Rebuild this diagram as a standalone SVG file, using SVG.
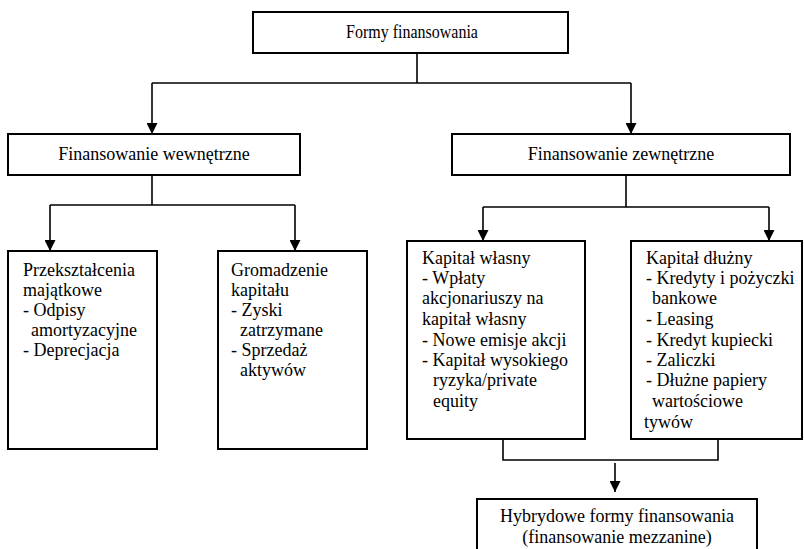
<svg xmlns="http://www.w3.org/2000/svg" width="804" height="549" viewBox="0 0 804 549">
  <defs>
    <marker id="arr" markerUnits="userSpaceOnUse" markerWidth="11" markerHeight="11" viewBox="0 0 10 10" refX="10" refY="5" orient="auto">
      <path d="M0,0 L10,5 L0,10 z" fill="#000"/>
    </marker>
    <style>
      .box { fill: #fff; stroke: #000; stroke-width: 2; }
      .t { font-family: "Liberation Serif", "Times New Roman", serif; font-size: 18px; fill: #000; }
      .c { text-anchor: middle; }
      .ln { fill: none; stroke: #000; stroke-width: 1.6; }
    </style>
  </defs>
  <rect width="804" height="549" fill="#fff"/>

  <g id="connectors">
    <path class="ln" d="M417,53 V83 M152,83 H631"/>
    <path class="ln" d="M152,83 V134" marker-end="url(#arr)"/>
    <path class="ln" d="M631,83 V134" marker-end="url(#arr)"/>
    <path class="ln" d="M152,175 V205 M50,205 H295"/>
    <path class="ln" d="M50,205 V251" marker-end="url(#arr)"/>
    <path class="ln" d="M295,205 V251" marker-end="url(#arr)"/>
    <path class="ln" d="M626,175 V207 M483,207 H769"/>
    <path class="ln" d="M483,207 V241" marker-end="url(#arr)"/>
    <path class="ln" d="M769,207 V241" marker-end="url(#arr)"/>
    <path class="ln" d="M503,439 V460 H718 V439"/>
    <path class="ln" d="M615,463 V492" marker-end="url(#arr)"/>
  </g>

  <g id="formy">
    <rect class="box" x="253" y="12" width="315" height="41"/>
    <text class="t c" style="font-size:16px" transform="translate(412,38) scale(1,1.22)" x="0" y="0">Formy finansowania</text>
  </g>

  <g id="wewnetrzne">
    <rect class="box" x="8" y="134" width="292" height="41"/>
    <text class="t c" x="154" y="160">Finansowanie wewnętrzne</text>
  </g>

  <g id="zewnetrzne">
    <rect class="box" x="452" y="134" width="338" height="41"/>
    <text class="t c" x="621" y="160">Finansowanie zewnętrzne</text>
  </g>

  <g id="przeksztalcenia">
    <rect class="box" x="8" y="251" width="149" height="198"/>
    <text class="t">
      <tspan x="23" y="276">Przekształcenia</tspan>
      <tspan x="23" y="296">majątkowe</tspan>
      <tspan x="23" y="316">- Odpisy</tspan>
      <tspan x="31" y="336">amortyzacyjne</tspan>
      <tspan x="23" y="356">- Deprecjacja</tspan>
    </text>
  </g>

  <g id="gromadzenie">
    <rect class="box" x="218" y="251" width="149" height="198"/>
    <text class="t">
      <tspan x="231" y="276">Gromadzenie</tspan>
      <tspan x="231" y="296">kapitału</tspan>
      <tspan x="231" y="316">- Zyski</tspan>
      <tspan x="240" y="336">zatrzymane</tspan>
      <tspan x="231" y="356">- Sprzedaż</tspan>
      <tspan x="240" y="376">aktywów</tspan>
    </text>
  </g>

  <g id="wlasny">
    <rect class="box" x="407" y="241" width="178" height="198"/>
    <text class="t">
      <tspan x="422" y="264">Kapitał własny</tspan>
      <tspan x="422" y="284">- Wpłaty</tspan>
      <tspan x="422" y="304">akcjonariuszy na</tspan>
      <tspan x="422" y="325">kapitał własny</tspan>
      <tspan x="422" y="346">- Nowe emisje akcji</tspan>
      <tspan x="422" y="366">- Kapitał wysokiego</tspan>
      <tspan x="433" y="386">ryzyka/private</tspan>
      <tspan x="433" y="407">equity</tspan>
    </text>
  </g>

  <g id="dluzny">
    <rect class="box" x="631" y="241" width="171" height="198"/>
    <text class="t">
      <tspan x="646" y="264">Kapitał dłużny</tspan>
      <tspan x="646" y="284">- Kredyty i pożyczki</tspan>
      <tspan x="652" y="304">bankowe</tspan>
      <tspan x="646" y="325">- Leasing</tspan>
      <tspan x="646" y="346">- Kredyt kupiecki</tspan>
      <tspan x="646" y="366">- Zaliczki</tspan>
      <tspan x="646" y="386">- Dłużne papiery</tspan>
      <tspan x="652" y="407">wartościowe</tspan>
      <tspan x="644" y="428">tywów</tspan>
    </text>
  </g>

  <g id="hybrydowe">
    <rect class="box" x="477" y="499" width="280" height="70"/>
    <text class="t c" x="617" y="522">Hybrydowe formy finansowania</text>
    <text class="t c" x="617" y="543">(finansowanie mezzanine)</text>
  </g>
</svg>
